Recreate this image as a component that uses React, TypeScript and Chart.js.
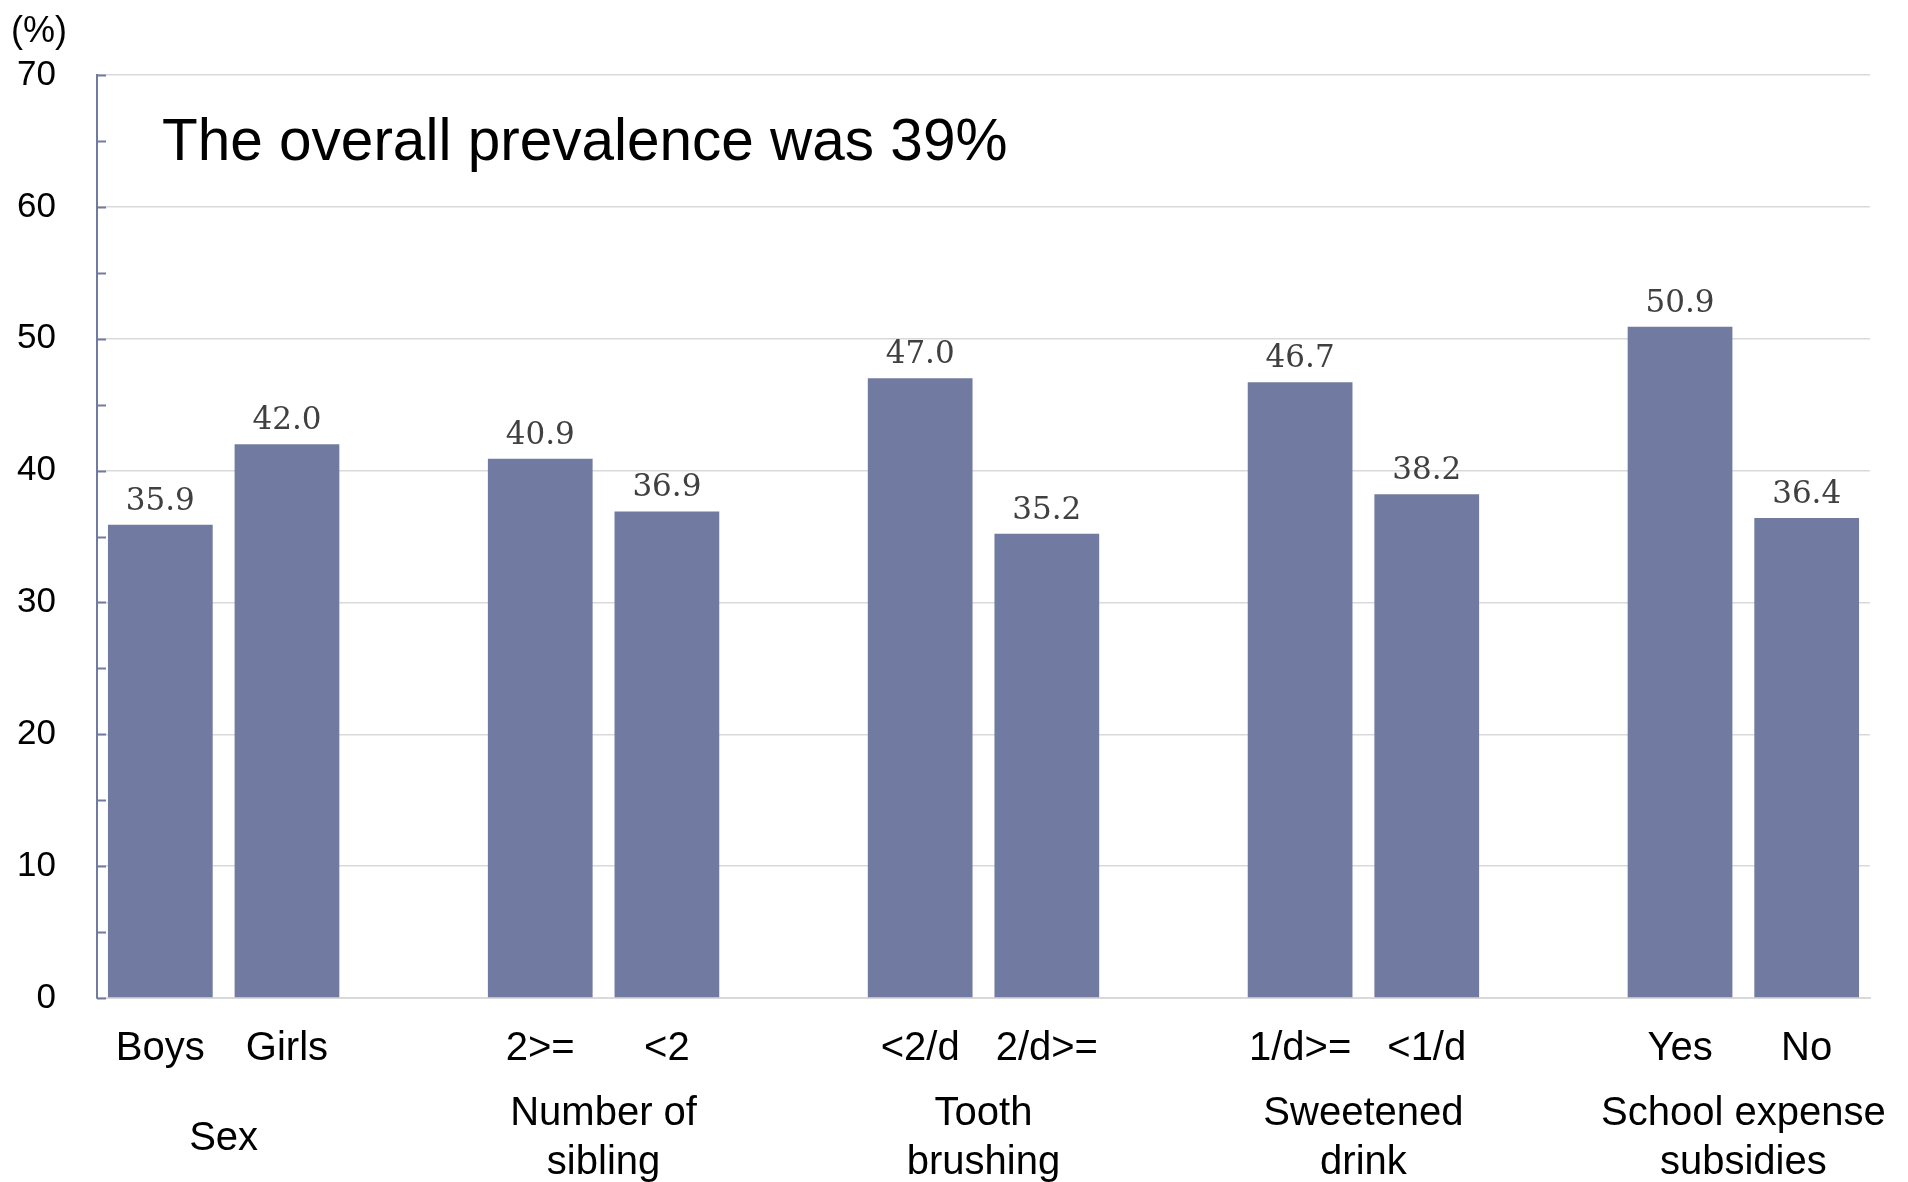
import React, { useEffect, useRef } from "react";
import { Chart, registerables } from "chart.js";

Chart.register(...registerables);

// ---- data ----
const groupNames: string[][] = [
  ["Sex"],
  ["Number of", "sibling"],
  ["Tooth", "brushing"],
  ["Sweetened", "drink"],
  ["School expense", "subsidies"],
];
const groupCategories: string[][] = [
  ["Boys", "Girls"],
  ["2>=", "<2"],
  ["<2/d", "2/d>="],
  ["1/d>=", "<1/d"],
  ["Yes", "No"],
];
const groupValues: number[][] = [
  [35.9, 42.0],
  [40.9, 36.9],
  [47.0, 35.2],
  [46.7, 38.2],
  [50.9, 36.4],
];
const yTicks: number[] = [0, 10, 20, 30, 40, 50, 60, 70];
const titleText = "The overall prevalence was 39%";
const unitText = "(%)";

// build slot arrays (two bars per group, one empty slot between groups)
const labels: string[] = [];
const values: (number | null)[] = [];
const groupCenters: number[] = [];
groupCategories.forEach((cats, g) => {
  if (g > 0) {
    labels.push("");
    values.push(null);
  }
  const start = labels.length;
  cats.forEach((c, i) => {
    labels.push(c);
    values.push(groupValues[g][i]);
  });
  groupCenters.push(start + (cats.length - 1) / 2);
});

const SANS = "'Liberation Sans', Arial, sans-serif";
const SERIF = "'DejaVu Serif', serif";
const BAR = "#717ba1";
const AXIS = "#717ba1";
const GRID = "#d9d9d9";
const X2_MIN = -0.5;
const X2_MAX = labels.length - 0.5;

export default function App() {
  const ref = useRef<HTMLCanvasElement | null>(null);

  useEffect(() => {
    document.body.style.margin = "0";
    document.body.style.overflow = "hidden";
    if (!ref.current) return;

    const extras = {
      id: "extras",
      afterDraw(chart: any) {
        const ctx = chart.ctx;
        const ca = chart.chartArea;
        const y = chart.scales.y;
        ctx.save();
        // inner tick marks on the y axis
        ctx.strokeStyle = AXIS;
        ctx.lineWidth = 2;
        for (let v = 0; v <= 70; v += 5) {
          const py = Math.round(y.getPixelForValue(v)) + 0.5;
          ctx.beginPath();
          ctx.moveTo(ca.left, py);
          ctx.lineTo(ca.left + 9, py);
          ctx.stroke();
        }
        // value labels
        const meta = chart.getDatasetMeta(0);
        ctx.fillStyle = "#404040";
        ctx.font = `31px ${SERIF}`;
        ctx.textAlign = "center";
        ctx.textBaseline = "alphabetic";
        meta.data.forEach((bar: any, i: number) => {
          const v = values[i];
          if (v == null) return;
          ctx.fillText(v.toFixed(1), bar.x, bar.y - 15);
        });
        // title inside the plot
        ctx.fillStyle = "#000";
        ctx.font = `58.5px ${SANS}`;
        ctx.textAlign = "left";
        ctx.fillText(titleText, ca.left + 65, ca.top + 85);
        // unit
        ctx.font = `36px ${SANS}`;
        ctx.fillText(unitText, 11, 42);
        ctx.restore();
      },
    };

    const chart = new Chart(ref.current, {
      type: "bar",
      data: {
        labels,
        datasets: [
          {
            data: values as any,
            backgroundColor: BAR,
            borderWidth: 0,
            categoryPercentage: 1,
            barPercentage: 0.827,
            xAxisID: "x",
            yAxisID: "y",
          },
        ],
      },
      options: {
        animation: false,
        responsive: false,
        devicePixelRatio: 1,
        layout: { padding: { top: 75, right: 38, left: 0, bottom: 0 } },
        plugins: {
          legend: { display: false },
          tooltip: { enabled: false },
          title: { display: false },
        },
        scales: {
          x: {
            type: "category",
            position: "bottom",
            weight: 1,
            grid: { display: false, drawTicks: false },
            border: { display: true, color: GRID, width: 2 },
            ticks: {
              color: "#000",
              font: { family: SANS, size: 40 },
              padding: 27,
              maxRotation: 0,
              autoSkip: false,
            },
            afterFit: (s: any) => {
              s.height = 72;
            },
          },
          x2: {
            type: "linear",
            position: "bottom",
            weight: 2,
            offset: false,
            bounds: "data",
            min: X2_MIN,
            max: X2_MAX,
            grid: { display: false, drawTicks: false, offset: false },
            border: { display: false },
            afterBuildTicks: (s: any) => {
              s.ticks = groupCenters.map((v) => ({ value: v }));
              s.min = X2_MIN;
              s.max = X2_MAX;
            },
            ticks: {
              color: "#000",
              font: { family: SANS, size: 40, lineHeight: 1.225 },
              padding: 44,
              crossAlign: "center",
              maxRotation: 0,
              autoSkip: false,
              callback: (_v: any, i: number) => groupNames[i],
            },
            afterFit: (s: any) => {
              s.height = 112;
              s.paddingLeft = 0;
              s.paddingRight = 0;
            },
          },
          y: {
            type: "linear",
            min: 0,
            max: 70,
            afterBuildTicks: (s: any) => {
              s.ticks = yTicks.map((v) => ({ value: v }));
            },
            grid: { color: GRID, lineWidth: 1.5, drawTicks: false },
            border: { display: true, color: AXIS, width: 2 },
            ticks: {
              color: "#000",
              font: { family: SANS, size: 35 },
              padding: 41,
            },
            afterFit: (s: any) => {
              s.width = 97;
            },
          },
        },
      },
      plugins: [extras],
    });
    return () => chart.destroy();
  }, []);

  return (
    <div style={{ width: 1908, height: 1182 }}>
      <canvas ref={ref} width={1908} height={1182} />
    </div>
  );
}
